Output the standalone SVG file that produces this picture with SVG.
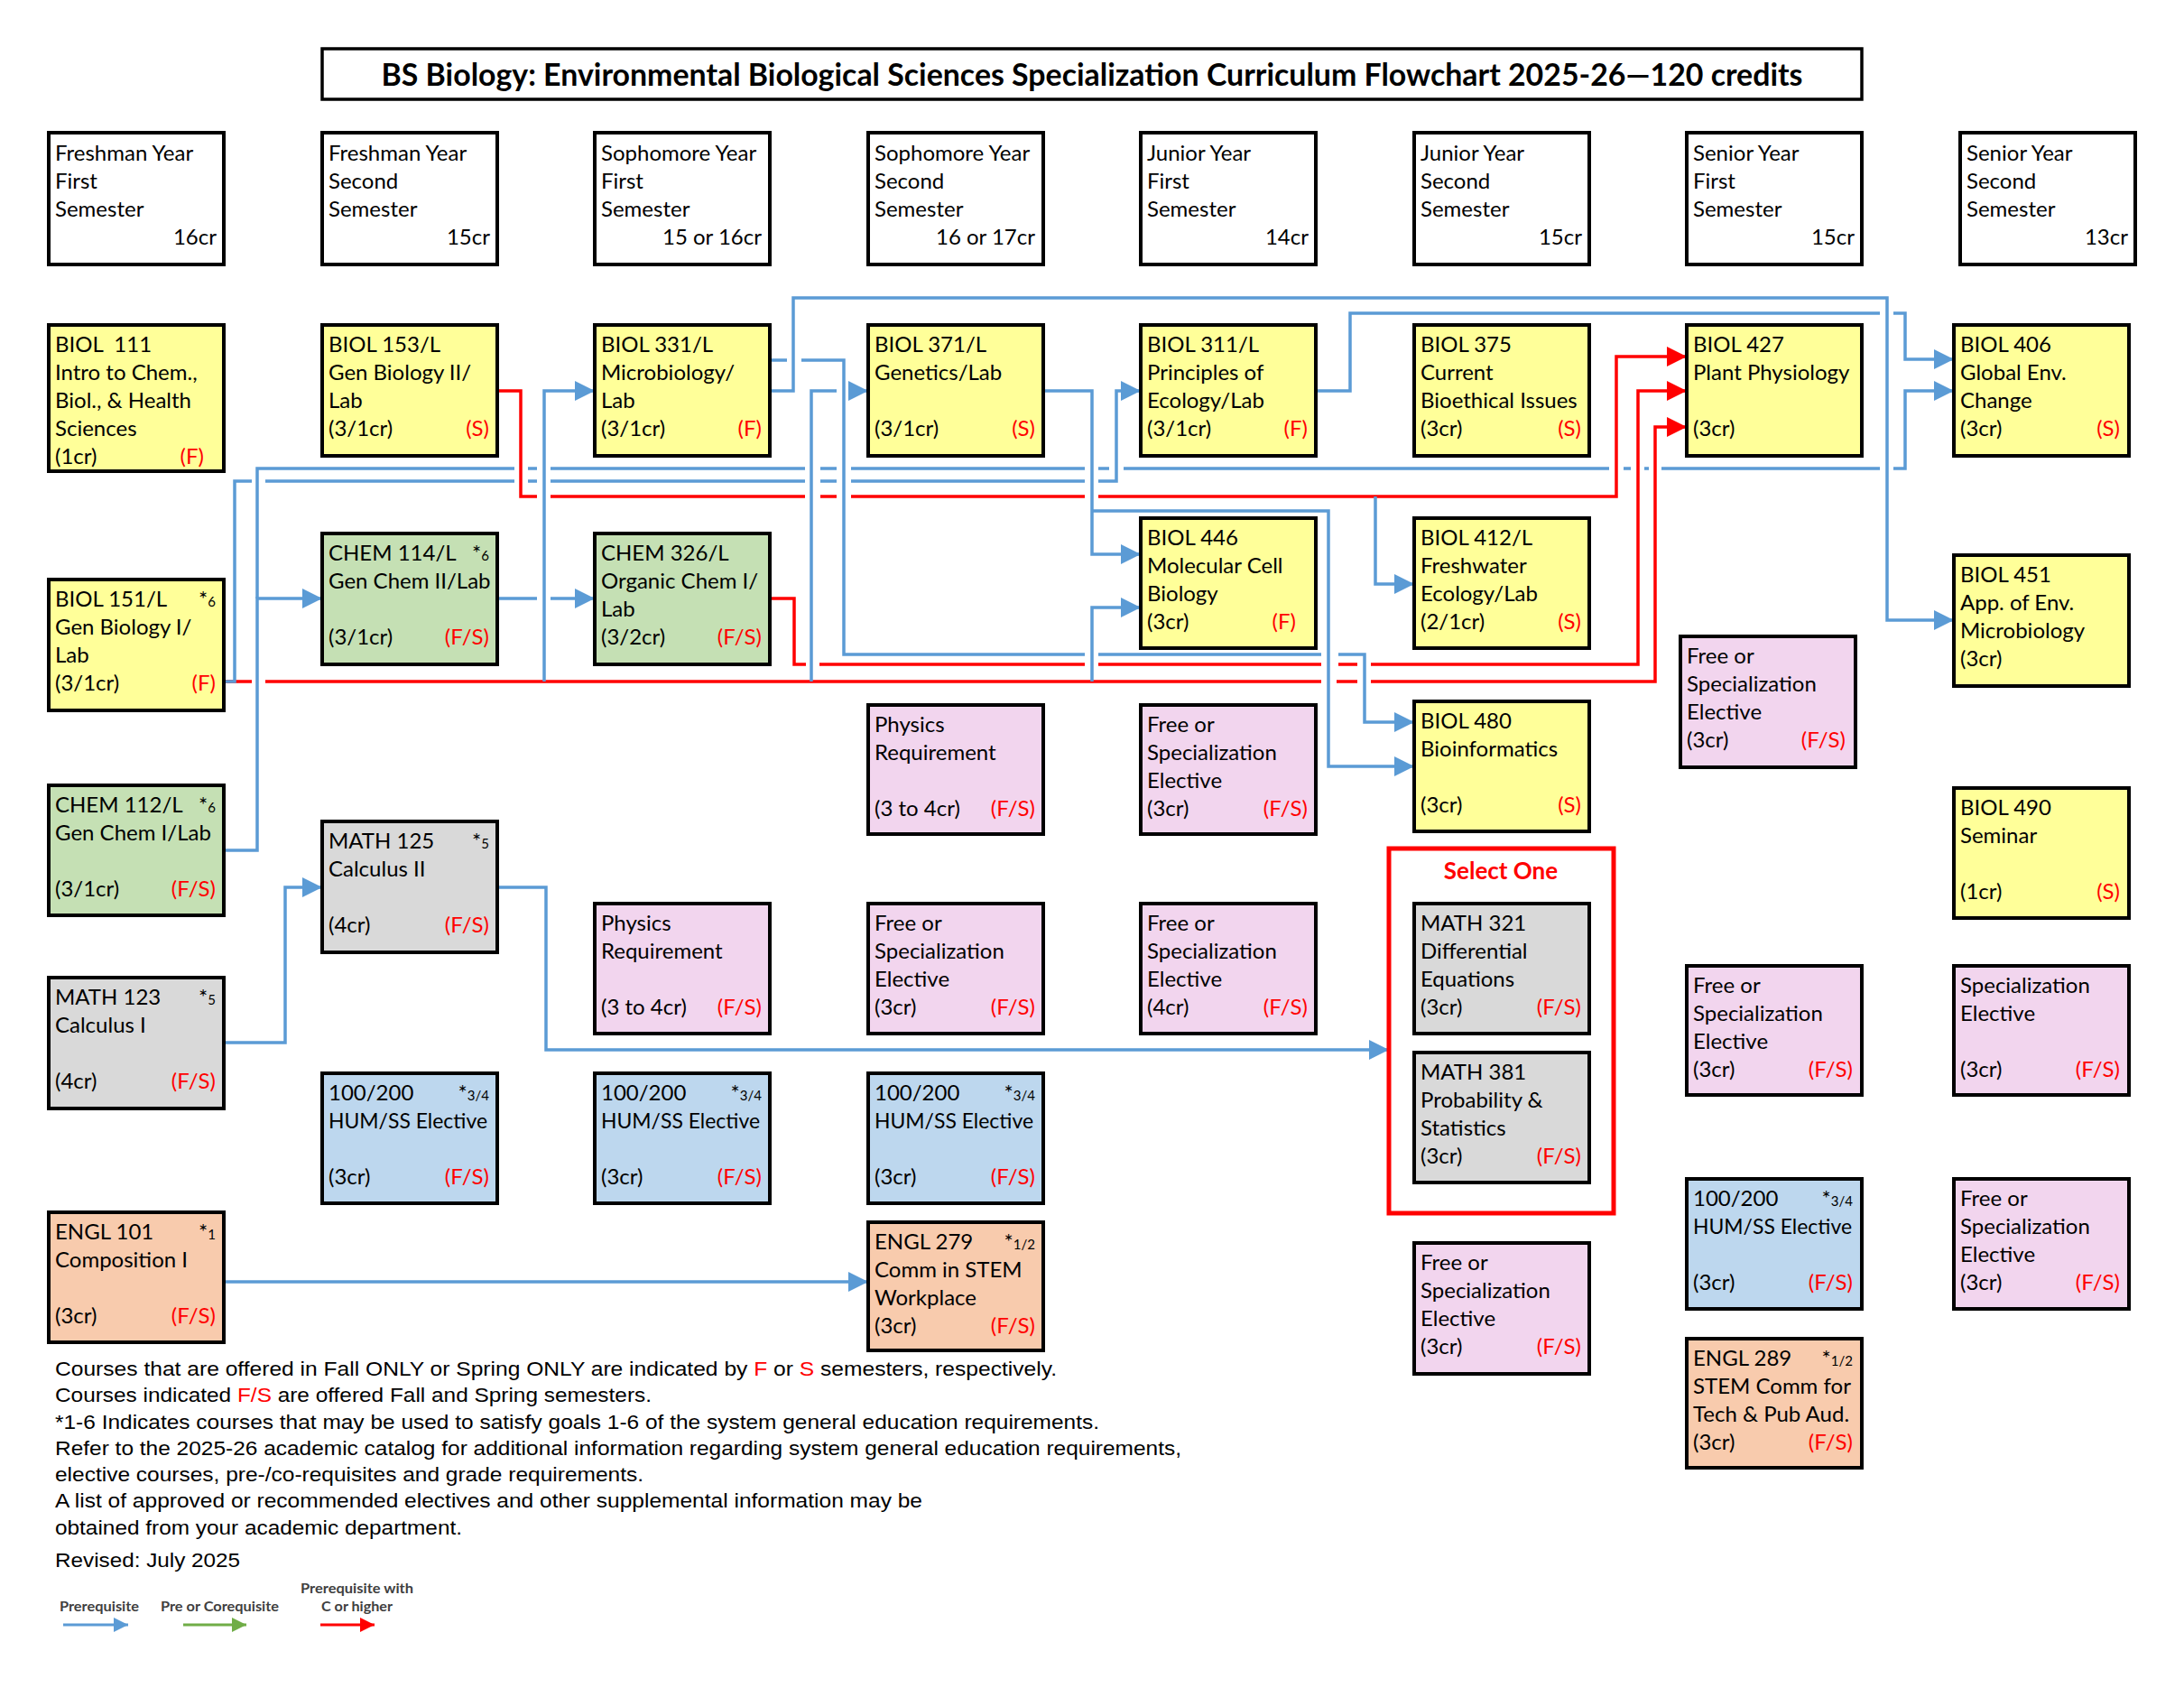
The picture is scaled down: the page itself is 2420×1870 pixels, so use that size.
<svg xmlns="http://www.w3.org/2000/svg" width="2420" height="1870" viewBox="0 0 2420 1870">
<style>
.bx{stroke:#000;stroke-width:4}
.w{fill:#fff}.y{fill:#FFFF99}.g{fill:#C5E0B4}.gr{fill:#D9D9D9}.p{fill:#F2D5EE}.bl{fill:#BDD7EE}.o{fill:#F8CBAD}
.t{font-family:Lato,"Liberation Sans",sans-serif;font-size:24px;fill:#000}
.e{text-anchor:end}
.rt{fill:#FF0000}
.sm{font-size:15px}
.cb{fill:none;stroke:#5B9BD5;stroke-width:3.5}
.cr{fill:none;stroke:#FF0000;stroke-width:3.5}
.note{font-family:"Liberation Sans",Arial,sans-serif;font-size:22px;fill:#000}
.lg{font-family:Lato,"Liberation Sans",sans-serif;font-weight:bold;font-size:15px;fill:#404040}
</style>
<defs>
<marker id="aB" markerUnits="userSpaceOnUse" markerWidth="22" markerHeight="22" refX="22" refY="11" orient="auto" viewBox="0 0 22 22"><path d="M0,0 L22,11 L0,22 z" fill="#5B9BD5"/></marker>
<marker id="aR" markerUnits="userSpaceOnUse" markerWidth="22" markerHeight="22" refX="22" refY="11" orient="auto" viewBox="0 0 22 22"><path d="M0,0 L22,11 L0,22 z" fill="#FF0000"/></marker>
<marker id="sB" markerUnits="userSpaceOnUse" markerWidth="16" markerHeight="16" refX="16" refY="8" orient="auto" viewBox="0 0 16 16"><path d="M0,0 L16,8 L0,16 z" fill="#5B9BD5"/></marker>
<marker id="sG" markerUnits="userSpaceOnUse" markerWidth="16" markerHeight="16" refX="16" refY="8" orient="auto" viewBox="0 0 16 16"><path d="M0,0 L16,8 L0,16 z" fill="#70AD47"/></marker>
<marker id="sR" markerUnits="userSpaceOnUse" markerWidth="16" markerHeight="16" refX="16" refY="8" orient="auto" viewBox="0 0 16 16"><path d="M0,0 L16,8 L0,16 z" fill="#FF0000"/></marker>
</defs>
<rect width="2420" height="1870" fill="#fff"/>

<g id="title">
<rect x="357" y="54" width="1706" height="56" fill="#fff" stroke="#000" stroke-width="3.5"/>
<text x="1210" y="95" text-anchor="middle" font-family="Lato,'Liberation Sans',sans-serif" font-weight="bold" font-size="35" textLength="1575" lengthAdjust="spacingAndGlyphs">BS Biology: Environmental Biological Sciences Specialization Curriculum Flowchart 2025-26—120 credits</text>
</g>

<g id="headers">
<g id="h1"><rect class="bx w" x="54" y="147" width="194" height="146"/><text class="t"><tspan x="61" y="178">Freshman Year</tspan><tspan x="61" y="209">First</tspan><tspan x="61" y="240">Semester</tspan></text><text class="t e" x="240" y="271">16cr</text></g>
<g id="h2"><rect class="bx w" x="357" y="147" width="194" height="146"/><text class="t"><tspan x="364" y="178">Freshman Year</tspan><tspan x="364" y="209">Second</tspan><tspan x="364" y="240">Semester</tspan></text><text class="t e" x="543" y="271">15cr</text></g>
<g id="h3"><rect class="bx w" x="659" y="147" width="194" height="146"/><text class="t"><tspan x="666" y="178">Sophomore Year</tspan><tspan x="666" y="209">First</tspan><tspan x="666" y="240">Semester</tspan></text><text class="t e" x="844" y="271">15 or 16cr</text></g>
<g id="h4"><rect class="bx w" x="962" y="147" width="194" height="146"/><text class="t"><tspan x="969" y="178">Sophomore Year</tspan><tspan x="969" y="209">Second</tspan><tspan x="969" y="240">Semester</tspan></text><text class="t e" x="1147" y="271">16 or 17cr</text></g>
<g id="h5"><rect class="bx w" x="1264" y="147" width="194" height="146"/><text class="t"><tspan x="1271" y="178">Junior Year</tspan><tspan x="1271" y="209">First</tspan><tspan x="1271" y="240">Semester</tspan></text><text class="t e" x="1450" y="271">14cr</text></g>
<g id="h6"><rect class="bx w" x="1567" y="147" width="194" height="146"/><text class="t"><tspan x="1574" y="178">Junior Year</tspan><tspan x="1574" y="209">Second</tspan><tspan x="1574" y="240">Semester</tspan></text><text class="t e" x="1753" y="271">15cr</text></g>
<g id="h7"><rect class="bx w" x="1869" y="147" width="194" height="146"/><text class="t"><tspan x="1876" y="178">Senior Year</tspan><tspan x="1876" y="209">First</tspan><tspan x="1876" y="240">Semester</tspan></text><text class="t e" x="2055" y="271">15cr</text></g>
<g id="h8"><rect class="bx w" x="2172" y="147" width="194" height="146"/><text class="t"><tspan x="2179" y="178">Senior Year</tspan><tspan x="2179" y="209">Second</tspan><tspan x="2179" y="240">Semester</tspan></text><text class="t e" x="2358" y="271">13cr</text></g>
</g>

<g id="connectors">
<path class="cr" marker-end="url(#aR)" d="M551,433 H577 V550 H595 M610,550 H892 M909,550 H927 M943,550 H1202 M1217,550 H1791 V395 H1869"/>
<path class="cr" marker-end="url(#aR)" d="M853,663 H880 V736 H893 M908,736 H1202 M1217,736 H1464 M1483,736 H1504 M1519,736 H1815 V433 H1869"/>
<path class="cr" marker-end="url(#aR)" d="M248,755 H279 M294,755 H1464 M1481,755 H1504 M1519,755 H1834 V473 H1869"/>
<path class="cb" marker-end="url(#aB)" d="M248,755 H260 V533 H279 M294,533 H570 M585,533 H595 M610,533 H892 M909,533 H927 M943,533 H1202 M1217,533 H1237 V433 H1264"/>
<path class="cb" marker-end="url(#aB)" d="M248,942 H285 V663 H357"/>
<path class="cb" marker-end="url(#aB)" d="M285,663 V519 H570 M585,519 H595 M610,519 H892 M909,519 H927 M943,519 H1202 M1217,519 H1229 M1245,519 H1783 M1799,519 H1807 M1822,519 H1827 M1841,519 H2083 M2098,519 H2111 V433 H2165"/>
<path class="cb" marker-end="url(#aB)" d="M603,755 V433 H659"/>
<path class="cb" marker-end="url(#aB)" d="M899,755 V433 H927 M943,433 H962"/>
<path class="cb" marker-end="url(#aB)" d="M1210,755 V673 H1264"/>
<path class="cb" marker-end="url(#aB)" d="M551,663 H595 M610,663 H659"/>
<path class="cb" marker-end="url(#aB)" d="M853,433 H879 V330 H2091 V687 H2165"/>
<path class="cb" marker-end="url(#aB)" d="M853,399 H872 M888,399 H935 V725 H1202 M1217,725 H1464 M1483,725 H1512 V800 H1567"/>
<path class="cb" marker-end="url(#aB)" d="M1156,433 H1210 V614 H1264"/>
<path class="cb" marker-end="url(#aB)" d="M1210,566 H1472 V849 H1567"/>
<path class="cb" marker-end="url(#aB)" d="M1458,433 H1496 V347 H2083 M2098,347 H2111 V398 H2165"/>
<path class="cb" marker-end="url(#aB)" d="M1524,550 V647 H1567"/>
<path class="cb" marker-end="url(#aB)" d="M248,1155 H316 V983 H357"/>
<path class="cb" marker-end="url(#aB)" d="M551,983 H605 V1163 H1539"/>
<path class="cb" marker-end="url(#aB)" d="M248,1420 H962"/>
</g>

<g id="biol111"><rect class="bx y" x="54" y="360" width="194" height="162"/><text class="t" xml:space="preserve"><tspan x="61" y="390">BIOL  111</tspan></text><text class="t"><tspan x="61" y="421">Intro to Chem.,</tspan><tspan x="61" y="452">Biol., &amp; Health</tspan><tspan x="61" y="483">Sciences</tspan><tspan x="61" y="514">(1cr)</tspan></text><text class="t e rt" x="226" y="514">(F)</text></g>
<g id="biol151"><rect class="bx y" x="54" y="642" width="194" height="145"/><text class="t"><tspan x="61" y="672">BIOL 151/L</tspan><tspan x="61" y="703">Gen Biology I/</tspan><tspan x="61" y="734">Lab</tspan><tspan x="61" y="765">(3/1cr)</tspan></text><text class="t e" x="239" y="672">*<tspan class="sm">6</tspan></text><text class="t e rt" x="239" y="765">(F)</text></g>
<g id="chem112"><rect class="bx g" x="54" y="870" width="194" height="144"/><text class="t"><tspan x="61" y="900">CHEM 112/L</tspan><tspan x="61" y="931">Gen Chem I/Lab</tspan><tspan x="61" y="993">(3/1cr)</tspan></text><text class="t e" x="239" y="900">*<tspan class="sm">6</tspan></text><text class="t e rt" x="239" y="993">(F/S)</text></g>
<g id="math123"><rect class="bx gr" x="54" y="1083" width="194" height="145"/><text class="t"><tspan x="61" y="1113">MATH 123</tspan><tspan x="61" y="1144">Calculus I</tspan><tspan x="61" y="1206">(4cr)</tspan></text><text class="t e" x="239" y="1113">*<tspan class="sm">5</tspan></text><text class="t e rt" x="239" y="1206">(F/S)</text></g>
<g id="engl101"><rect class="bx o" x="54" y="1343" width="194" height="144"/><text class="t"><tspan x="61" y="1373">ENGL 101</tspan><tspan x="61" y="1404">Composition I</tspan><tspan x="61" y="1466">(3cr)</tspan></text><text class="t e" x="239" y="1373">*<tspan class="sm">1</tspan></text><text class="t e rt" x="239" y="1466">(F/S)</text></g>

<g id="biol153"><rect class="bx y" x="357" y="360" width="194" height="145"/><text class="t"><tspan x="364" y="390">BIOL 153/L</tspan><tspan x="364" y="421">Gen Biology II/</tspan><tspan x="364" y="452">Lab</tspan><tspan x="364" y="483">(3/1cr)</tspan></text><text class="t e rt" x="542" y="483">(S)</text></g>
<g id="chem114"><rect class="bx g" x="357" y="591" width="194" height="145"/><text class="t"><tspan x="364" y="621">CHEM 114/L</tspan><tspan x="364" y="652">Gen Chem II/Lab</tspan><tspan x="364" y="714">(3/1cr)</tspan></text><text class="t e" x="542" y="621">*<tspan class="sm">6</tspan></text><text class="t e rt" x="542" y="714">(F/S)</text></g>
<g id="math125"><rect class="bx gr" x="357" y="910" width="194" height="145"/><text class="t"><tspan x="364" y="940">MATH 125</tspan><tspan x="364" y="971">Calculus II</tspan><tspan x="364" y="1033">(4cr)</tspan></text><text class="t e" x="542" y="940">*<tspan class="sm">5</tspan></text><text class="t e rt" x="542" y="1033">(F/S)</text></g>
<g id="hum1"><rect class="bx bl" x="357" y="1189" width="194" height="144"/><text class="t"><tspan x="364" y="1219">100/200</tspan></text><text class="t" x="364" y="1250" textLength="176" lengthAdjust="spacingAndGlyphs">HUM/SS Elective</text><text class="t" x="364" y="1312">(3cr)</text><text class="t e" x="542" y="1219">*<tspan class="sm">3/4</tspan></text><text class="t e rt" x="542" y="1312">(F/S)</text></g>

<g id="biol331"><rect class="bx y" x="659" y="360" width="194" height="145"/><text class="t"><tspan x="666" y="390">BIOL 331/L</tspan><tspan x="666" y="421">Microbiology/</tspan><tspan x="666" y="452">Lab</tspan><tspan x="666" y="483">(3/1cr)</tspan></text><text class="t e rt" x="844" y="483">(F)</text></g>
<g id="chem326"><rect class="bx g" x="659" y="591" width="194" height="145"/><text class="t"><tspan x="666" y="621">CHEM 326/L</tspan><tspan x="666" y="652">Organic Chem I/</tspan><tspan x="666" y="683">Lab</tspan><tspan x="666" y="714">(3/2cr)</tspan></text><text class="t e rt" x="844" y="714">(F/S)</text></g>
<g id="phys1"><rect class="bx p" x="659" y="1001" width="194" height="144"/><text class="t"><tspan x="666" y="1031">Physics</tspan><tspan x="666" y="1062">Requirement</tspan><tspan x="666" y="1124">(3 to 4cr)</tspan></text><text class="t e rt" x="844" y="1124">(F/S)</text></g>
<g id="hum2"><rect class="bx bl" x="659" y="1189" width="194" height="144"/><text class="t"><tspan x="666" y="1219">100/200</tspan></text><text class="t" x="666" y="1250" textLength="176" lengthAdjust="spacingAndGlyphs">HUM/SS Elective</text><text class="t" x="666" y="1312">(3cr)</text><text class="t e" x="844" y="1219">*<tspan class="sm">3/4</tspan></text><text class="t e rt" x="844" y="1312">(F/S)</text></g>

<g id="biol371"><rect class="bx y" x="962" y="360" width="194" height="145"/><text class="t"><tspan x="969" y="390">BIOL 371/L</tspan><tspan x="969" y="421">Genetics/Lab</tspan><tspan x="969" y="483">(3/1cr)</tspan></text><text class="t e rt" x="1147" y="483">(S)</text></g>
<g id="phys2"><rect class="bx p" x="962" y="781" width="194" height="143"/><text class="t"><tspan x="969" y="811">Physics</tspan><tspan x="969" y="842">Requirement</tspan><tspan x="969" y="904">(3 to 4cr)</tspan></text><text class="t e rt" x="1147" y="904">(F/S)</text></g>
<g id="free4"><rect class="bx p" x="962" y="1001" width="194" height="144"/><text class="t"><tspan x="969" y="1031">Free or</tspan><tspan x="969" y="1062">Specialization</tspan><tspan x="969" y="1093">Elective</tspan><tspan x="969" y="1124">(3cr)</tspan></text><text class="t e rt" x="1147" y="1124">(F/S)</text></g>
<g id="hum3"><rect class="bx bl" x="962" y="1189" width="194" height="144"/><text class="t"><tspan x="969" y="1219">100/200</tspan></text><text class="t" x="969" y="1250" textLength="176" lengthAdjust="spacingAndGlyphs">HUM/SS Elective</text><text class="t" x="969" y="1312">(3cr)</text><text class="t e" x="1147" y="1219">*<tspan class="sm">3/4</tspan></text><text class="t e rt" x="1147" y="1312">(F/S)</text></g>
<g id="engl279"><rect class="bx o" x="962" y="1354" width="194" height="142"/><text class="t"><tspan x="969" y="1384">ENGL 279</tspan><tspan x="969" y="1415">Comm in STEM</tspan><tspan x="969" y="1446">Workplace</tspan><tspan x="969" y="1477">(3cr)</tspan></text><text class="t e" x="1147" y="1384">*<tspan class="sm">1/2</tspan></text><text class="t e rt" x="1147" y="1477">(F/S)</text></g>

<g id="biol311"><rect class="bx y" x="1264" y="360" width="194" height="145"/><text class="t"><tspan x="1271" y="390">BIOL 311/L</tspan><tspan x="1271" y="421">Principles of</tspan><tspan x="1271" y="452">Ecology/Lab</tspan><tspan x="1271" y="483">(3/1cr)</tspan></text><text class="t e rt" x="1449" y="483">(F)</text></g>
<g id="biol446"><rect class="bx y" x="1264" y="574" width="194" height="144"/><text class="t"><tspan x="1271" y="604">BIOL 446</tspan><tspan x="1271" y="635">Molecular Cell</tspan><tspan x="1271" y="666">Biology</tspan><tspan x="1271" y="697">(3cr)</tspan></text><text class="t e rt" x="1436" y="697">(F)</text></g>
<g id="free5a"><rect class="bx p" x="1264" y="781" width="194" height="143"/><text class="t"><tspan x="1271" y="811">Free or</tspan><tspan x="1271" y="842">Specialization</tspan><tspan x="1271" y="873">Elective</tspan><tspan x="1271" y="904">(3cr)</tspan></text><text class="t e rt" x="1449" y="904">(F/S)</text></g>
<g id="free5b"><rect class="bx p" x="1264" y="1001" width="194" height="144"/><text class="t"><tspan x="1271" y="1031">Free or</tspan><tspan x="1271" y="1062">Specialization</tspan><tspan x="1271" y="1093">Elective</tspan><tspan x="1271" y="1124">(4cr)</tspan></text><text class="t e rt" x="1449" y="1124">(F/S)</text></g>

<g id="biol375"><rect class="bx y" x="1567" y="360" width="194" height="145"/><text class="t"><tspan x="1574" y="390">BIOL 375</tspan><tspan x="1574" y="421">Current</tspan><tspan x="1574" y="452">Bioethical Issues</tspan><tspan x="1574" y="483">(3cr)</tspan></text><text class="t e rt" x="1752" y="483">(S)</text></g>
<g id="biol412"><rect class="bx y" x="1567" y="574" width="194" height="144"/><text class="t"><tspan x="1574" y="604">BIOL 412/L</tspan><tspan x="1574" y="635">Freshwater</tspan><tspan x="1574" y="666">Ecology/Lab</tspan><tspan x="1574" y="697">(2/1cr)</tspan></text><text class="t e rt" x="1752" y="697">(S)</text></g>
<g id="biol480"><rect class="bx y" x="1567" y="777" width="194" height="144"/><text class="t"><tspan x="1574" y="807">BIOL 480</tspan><tspan x="1574" y="838">Bioinformatics</tspan><tspan x="1574" y="900">(3cr)</tspan></text><text class="t e rt" x="1752" y="900">(S)</text></g>
<g id="selectone"><rect x="1539" y="940" width="249" height="404" fill="none" stroke="#FF0000" stroke-width="5"/><text x="1663" y="974" text-anchor="middle" font-family="Lato,'Liberation Sans',sans-serif" font-weight="bold" font-size="26" fill="#FF0000">Select One</text></g>
<g id="math321"><rect class="bx gr" x="1567" y="1001" width="194" height="144"/><text class="t"><tspan x="1574" y="1031">MATH 321</tspan><tspan x="1574" y="1062">Differential</tspan><tspan x="1574" y="1093">Equations</tspan><tspan x="1574" y="1124">(3cr)</tspan></text><text class="t e rt" x="1752" y="1124">(F/S)</text></g>
<g id="math381"><rect class="bx gr" x="1567" y="1166" width="194" height="144"/><text class="t"><tspan x="1574" y="1196">MATH 381</tspan><tspan x="1574" y="1227">Probability &amp;</tspan><tspan x="1574" y="1258">Statistics</tspan><tspan x="1574" y="1289">(3cr)</tspan></text><text class="t e rt" x="1752" y="1289">(F/S)</text></g>
<g id="free6"><rect class="bx p" x="1567" y="1377" width="194" height="145"/><text class="t"><tspan x="1574" y="1407">Free or</tspan><tspan x="1574" y="1438">Specialization</tspan><tspan x="1574" y="1469">Elective</tspan><tspan x="1574" y="1500">(3cr)</tspan></text><text class="t e rt" x="1752" y="1500">(F/S)</text></g>

<g id="biol427"><rect class="bx y" x="1869" y="360" width="194" height="145"/><text class="t"><tspan x="1876" y="390">BIOL 427</tspan><tspan x="1876" y="421">Plant Physiology</tspan><tspan x="1876" y="483">(3cr)</tspan></text></g>
<g id="free7a"><rect class="bx p" x="1862" y="705" width="194" height="145"/><text class="t"><tspan x="1869" y="735">Free or</tspan><tspan x="1869" y="766">Specialization</tspan><tspan x="1869" y="797">Elective</tspan><tspan x="1869" y="828">(3cr)</tspan></text><text class="t e rt" x="2045" y="828">(F/S)</text></g>
<g id="free7b"><rect class="bx p" x="1869" y="1070" width="194" height="143"/><text class="t"><tspan x="1876" y="1100">Free or</tspan><tspan x="1876" y="1131">Specialization</tspan><tspan x="1876" y="1162">Elective</tspan><tspan x="1876" y="1193">(3cr)</tspan></text><text class="t e rt" x="2053" y="1193">(F/S)</text></g>
<g id="hum4"><rect class="bx bl" x="1869" y="1306" width="194" height="144"/><text class="t"><tspan x="1876" y="1336">100/200</tspan></text><text class="t" x="1876" y="1367" textLength="176" lengthAdjust="spacingAndGlyphs">HUM/SS Elective</text><text class="t" x="1876" y="1429">(3cr)</text><text class="t e" x="2053" y="1336">*<tspan class="sm">3/4</tspan></text><text class="t e rt" x="2053" y="1429">(F/S)</text></g>
<g id="engl289"><rect class="bx o" x="1869" y="1483" width="194" height="143"/><text class="t"><tspan x="1876" y="1513">ENGL 289</tspan><tspan x="1876" y="1544">STEM Comm for</tspan><tspan x="1876" y="1575">Tech &amp; Pub Aud.</tspan><tspan x="1876" y="1606">(3cr)</tspan></text><text class="t e" x="2053" y="1513">*<tspan class="sm">1/2</tspan></text><text class="t e rt" x="2053" y="1606">(F/S)</text></g>

<g id="biol406"><rect class="bx y" x="2165" y="360" width="194" height="145"/><text class="t"><tspan x="2172" y="390">BIOL 406</tspan><tspan x="2172" y="421">Global Env.</tspan><tspan x="2172" y="452">Change</tspan><tspan x="2172" y="483">(3cr)</tspan></text><text class="t e rt" x="2349" y="483">(S)</text></g>
<g id="biol451"><rect class="bx y" x="2165" y="615" width="194" height="145"/><text class="t"><tspan x="2172" y="645">BIOL 451</tspan><tspan x="2172" y="676">App. of Env.</tspan><tspan x="2172" y="707">Microbiology</tspan><tspan x="2172" y="738">(3cr)</tspan></text></g>
<g id="biol490"><rect class="bx y" x="2165" y="873" width="194" height="144"/><text class="t"><tspan x="2172" y="903">BIOL 490</tspan><tspan x="2172" y="934">Seminar</tspan><tspan x="2172" y="996">(1cr)</tspan></text><text class="t e rt" x="2349" y="996">(S)</text></g>
<g id="spec8"><rect class="bx p" x="2165" y="1070" width="194" height="143"/><text class="t"><tspan x="2172" y="1100">Specialization</tspan><tspan x="2172" y="1131">Elective</tspan><tspan x="2172" y="1193">(3cr)</tspan></text><text class="t e rt" x="2349" y="1193">(F/S)</text></g>
<g id="free8"><rect class="bx p" x="2165" y="1306" width="194" height="144"/><text class="t"><tspan x="2172" y="1336">Free or</tspan><tspan x="2172" y="1367">Specialization</tspan><tspan x="2172" y="1398">Elective</tspan><tspan x="2172" y="1429">(3cr)</tspan></text><text class="t e rt" x="2349" y="1429">(F/S)</text></g>

<g id="notes">
<text class="note" x="61" y="1524" textLength="1110" lengthAdjust="spacingAndGlyphs">Courses that are offered in Fall ONLY or Spring ONLY are indicated by <tspan fill="#FF0000">F</tspan> or <tspan fill="#FF0000">S</tspan> semesters, respectively.</text>
<text class="note" x="61" y="1553" textLength="661" lengthAdjust="spacingAndGlyphs">Courses indicated <tspan fill="#FF0000">F/S</tspan> are offered Fall and Spring semesters.</text>
<text class="note" x="61" y="1583" textLength="1157" lengthAdjust="spacingAndGlyphs">*1-6 Indicates courses that may be used to satisfy goals 1-6 of the system general education requirements.</text>
<text class="note" x="61" y="1612" textLength="1248" lengthAdjust="spacingAndGlyphs">Refer to the 2025-26 academic catalog for additional information regarding system general education requirements,</text>
<text class="note" x="61" y="1641" textLength="652" lengthAdjust="spacingAndGlyphs">elective courses, pre-/co-requisites and grade requirements.</text>
<text class="note" x="61" y="1670" textLength="961" lengthAdjust="spacingAndGlyphs">A list of approved or recommended electives and other supplemental information may be</text>
<text class="note" x="61" y="1700" textLength="451" lengthAdjust="spacingAndGlyphs">obtained from your academic department.</text>
<text class="note" x="61" y="1736" textLength="205" lengthAdjust="spacingAndGlyphs">Revised: July 2025</text>
</g>

<g id="legend">
<text class="lg" x="66" y="1785" textLength="88" lengthAdjust="spacingAndGlyphs">Prerequisite</text>
<path d="M70,1800 H142" stroke="#5B9BD5" stroke-width="3" fill="none" marker-end="url(#sB)"/>
<text class="lg" x="178" y="1785" textLength="131" lengthAdjust="spacingAndGlyphs">Pre or Corequisite</text>
<path d="M203,1800 H273" stroke="#70AD47" stroke-width="3" fill="none" marker-end="url(#sG)"/>
<text class="lg" x="333" y="1765" textLength="125" lengthAdjust="spacingAndGlyphs">Prerequisite with</text>
<text class="lg" x="356" y="1785" textLength="79" lengthAdjust="spacingAndGlyphs">C or higher</text>
<path d="M355,1800 H415" stroke="#FF0000" stroke-width="3" fill="none" marker-end="url(#sR)"/>
</g>
</svg>
